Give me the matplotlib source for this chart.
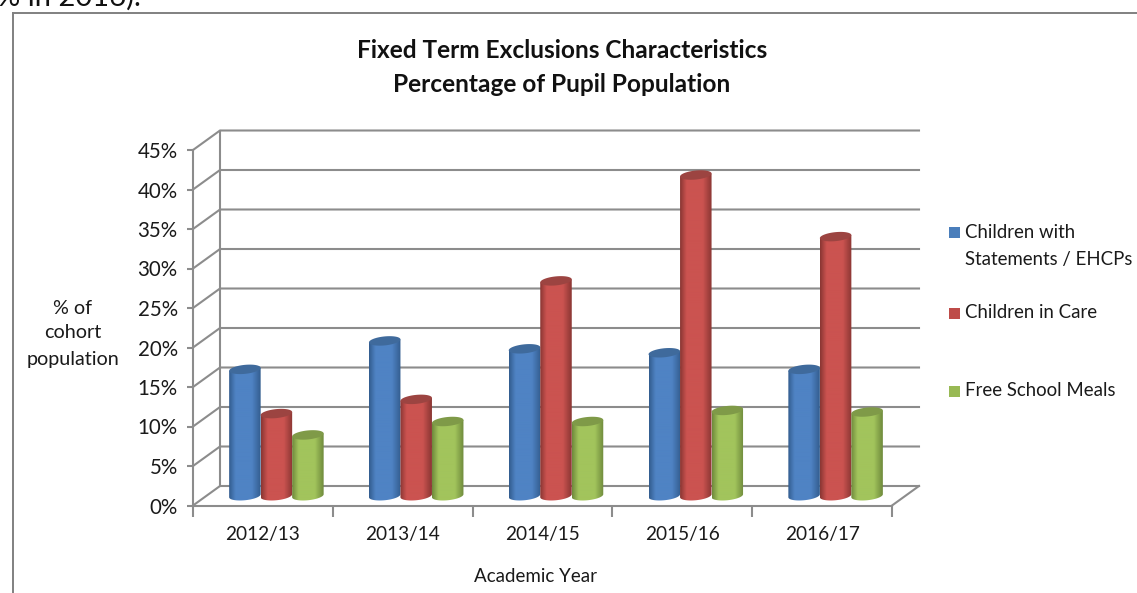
import numpy as np
import matplotlib
matplotlib.use('Agg')
import matplotlib.pyplot as plt
from matplotlib.colors import LinearSegmentedColormap
from matplotlib.lines import Line2D
from matplotlib.patches import Polygon, Rectangle

plt.rcParams['font.family'] = ['Lato', 'DejaVu Sans']

# values
years = ['2012/13', '2013/14', '2014/15', '2015/16', '2016/17']
statements = [16.0, 19.6, 18.6, 18.1, 16.0]
in_care = [10.4, 12.2, 27.2, 40.6, 32.8]
free_meals = [7.7, 9.4, 9.4, 10.8, 10.6]
y_ticks = [0, 5, 10, 15, 20, 25, 30, 35, 40, 45]

series_names = ['Children with\nStatements / EHCPs', 'Children in Care', 'Free School Meals']
series_values = [statements, in_care, free_meals]
# edge, middle, top cap colours
series_colours = [('#335d8f', '#4f83c4', '#3f6a9c'),
                  ('#8a3633', '#cb5350', '#9c4441'),
                  ('#6f8a3c', '#a2c45c', '#7f9a48')]
legend_colours = ['#4a7ebb', '#be4b48', '#98b954']

W, H = 1137, 593
GREY = '#8c8c8c'

fig = plt.figure(figsize=(W / 100, H / 100), dpi=100)
# axes box is the front plane of the 3D chart
left, right, bottom, top = 193, 892, 505.5, 150
ax = fig.add_axes([left / W, 1 - bottom / H, (right - left) / W, (bottom - top) / H])

# depth of the chart in data units
px_x = 5 / (right - left)
px_y = 45 / (bottom - top)
depth_x = 27 * px_x
depth_y = 19.5 * px_y

# back wall, side wall and floor
for v in y_ticks:
    ax.plot([0, depth_x, 5 + depth_x], [v, v + depth_y, v + depth_y],
            color=GREY, lw=1.5, clip_on=False, zorder=1)
ax.plot([depth_x, depth_x], [depth_y, 45 + depth_y], color=GREY, lw=1.5, clip_on=False, zorder=1)
ax.plot([5, 5 + depth_x], [0, depth_y], color=GREY, lw=1.5, clip_on=False, zorder=1)


def draw_cylinder(x0, x1, y0, y1, colours, z):
    cx = (x0 + x1) / 2
    a = (x1 - x0) / 2
    b = 4.5 * px_y
    tilt = 1.5 * px_y
    t = np.linspace(0, 2 * np.pi, 80)
    # body outline: top edge straight through the cap, rounded bottom
    tb = np.linspace(np.pi, 2 * np.pi, 40)
    bx = cx + a * np.cos(tb)
    by = y0 + b * np.sin(tb) + tilt * np.cos(tb)
    body = Polygon(np.column_stack([np.r_[bx, x1, x0], np.r_[by, y1 + tilt, y1 - tilt]]),
                   closed=True, fc='none', ec='none', zorder=z, clip_on=False)
    ax.add_patch(body)
    cmap = LinearSegmentedColormap.from_list(
        'c', [(0, colours[0]), (0.2, colours[1]), (0.72, colours[1]), (1, colours[0])])
    grad = np.linspace(0, 1, 64).reshape(1, -1)
    im = ax.imshow(grad, extent=[x0, x1, y0 - b - tilt, y1 + tilt], aspect='auto',
                   cmap=cmap, interpolation='bilinear', zorder=z, clip_on=True)
    im.set_clip_path(body)
    cap = Polygon(np.column_stack([cx + a * np.cos(t), y1 + b * np.sin(t) + tilt * np.cos(t)]),
                  closed=True, fc=colours[2], ec='none', zorder=z + 0.1, clip_on=False)
    ax.add_patch(cap)


bar_w = 31.5 * px_x
for s, values in enumerate(series_values):
    for i, v in enumerate(values):
        start = i + 0.5 + depth_x / 2 + (s - 1.5) * bar_w
        draw_cylinder(start, start + bar_w, depth_y / 2, v + depth_y / 2,
                      series_colours[s], 3 + s * 0.5)

ax.set_xlim(0, 5)
ax.set_ylim(0, 45)
ax.set_yticks(y_ticks)
ax.set_yticklabels([f'{v}%' for v in y_ticks], fontsize=14.8, color='#1a1a1a')
ax.set_xticks(range(6))
ax.set_xticklabels([])
ax.set_xticks(np.arange(5) + 0.5, labels=years, minor=True, fontsize=13.7, color='#1a1a1a')
ax.tick_params(axis='x', which='major', length=8, width=1.5, color=GREY)
ax.tick_params(axis='x', which='minor', length=0, pad=14.5)
ax.tick_params(axis='y', length=4, width=1.5, color=GREY, pad=7)
ax.patch.set_alpha(0)
for name in ['top', 'right']:
    ax.spines[name].set_visible(False)
for name in ['left', 'bottom']:
    ax.spines[name].set_color(GREY)
    ax.spines[name].set_linewidth(1.5)
    ax.spines[name].set_zorder(2)


def fx(px):
    return px / W


def fy(py):
    return 1 - py / H


# outer frame of the pasted chart, cut off at the right and bottom
fig.add_artist(Line2D([fx(12.5), fx(12.5)], [fy(593), fy(12.5)], color='#808080', lw=1.4))
fig.add_artist(Line2D([fx(12.5), fx(1137)], [fy(12.5), fy(12.5)], color='#808080', lw=1.4))

# bit of body text above the screenshot
fig.text(fx(-3), fy(6), '% in 2016).', fontsize=21, color='#111111', va='baseline')

fig.text(fx(562), fy(51), 'Fixed Term Exclusions Characteristics', ha='center', va='center',
         fontsize=17.6, fontweight='bold', color='#111111')
fig.text(fx(562), fy(84), 'Percentage of Pupil Population', ha='center', va='center',
         fontsize=17.6, fontweight='bold', color='#111111')

for txt, py in [('% of', 308), ('cohort', 333), ('population', 359)]:
    fig.text(fx(73), fy(py), txt, ha='center', va='center', fontsize=14.2, color='#1a1a1a')
fig.text(fx(536), fy(576), 'Academic Year', ha='center', va='center', fontsize=13.5, color='#1a1a1a')

# legend
for name, colour, py in zip(series_names, legend_colours, [233, 313, 391]):
    fig.add_artist(Rectangle((fx(949), fy(py + 5.5)), 11 / W, 11 / H, fc=colour, ec='none',
                             transform=fig.transFigure))
    for n, line in enumerate(name.split('\n')):
        fig.text(fx(965), fy(py + n * 26), line, ha='left', va='center', fontsize=13.4, color='#1a1a1a')

fig.savefig('out.png', dpi=100)
